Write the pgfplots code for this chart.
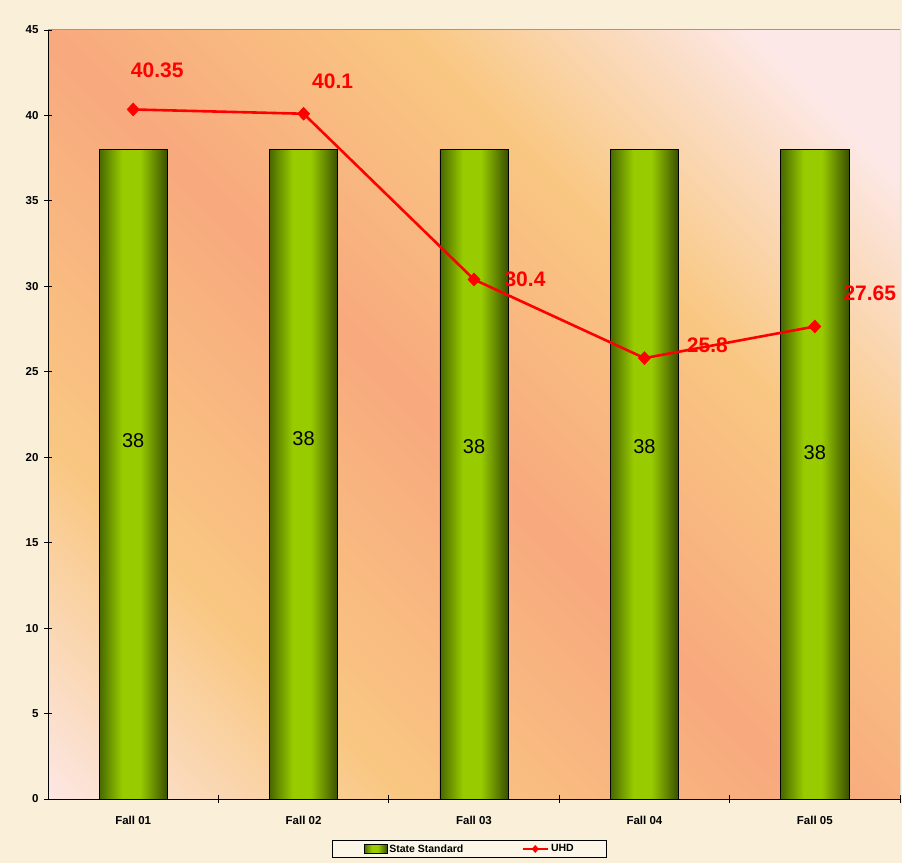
\documentclass[border=0pt]{standalone}
\usepackage{pgfplots}
\pgfplotsset{compat=1.18}
\usepackage{fontspec}
\setmainfont{Liberation Sans}

\definecolor{paper}{HTML}{FAF0DA}
\definecolor{bgpink}{HTML}{FCE8E6}
\definecolor{bgorange}{HTML}{F9C782}
\definecolor{bgsalmon}{HTML}{F8A97E}
\definecolor{bardarkL}{HTML}{476800}
\definecolor{bardarkR}{HTML}{3A5000}
\definecolor{barlight}{HTML}{99CC00}
\definecolor{uhdred}{HTML}{FF0000}

\pgfdeclarehorizontalshading{plotbg}{100bp}{%
  color(0bp)=(bgpink); color(14bp)=(bgpink); color(30bp)=(bgorange);
  color(48bp)=(bgsalmon); color(64bp)=(bgorange); color(79bp)=(bgpink);
  color(100bp)=(bgpink)}
\pgfdeclarehorizontalshading{barsh}{100bp}{%
  color(0bp)=(bardarkL); color(25bp)=(bardarkL); color(42bp)=(barlight);
  color(55bp)=(barlight); color(75bp)=(bardarkR); color(100bp)=(bardarkR)}

\pgfplotsset{
  barlegend/.style={legend image code/.code={%
    \draw[##1] (0pt,-4.5pt) rectangle (23pt,4.5pt);}},
  linelegend/.style={legend image code/.code={%
    \draw[##1, mark=none] (0pt,0pt) -- (25pt,0pt);
    \draw[##1, mark size=3.5pt] plot coordinates {(12.5pt,0pt)};}},
  stdbar/.style={ybar, bar width=0.4, draw=black, line width=0.6pt,
    shading=barsh},
}

\begin{document}
\begin{tikzpicture}[x=1pt,y=1pt]
\fill[paper] (0,0) rectangle (902,863);
\useasboundingbox (0,0) rectangle (902,863);
\begin{axis}[
    at={(48pt,64pt)}, anchor=south west,
    scale only axis, width=852pt, height=769pt,
    xmin=-0.5, xmax=4.5, ymin=0, ymax=45,
    axis background/.style={shading=plotbg, shading angle=45},
    axis lines=left, axis line style={-, black, line width=0.8pt},
    ytick={0,5,...,45},
    xtick={0.5,1.5,2.5,3.5,4.5}, xticklabels={},
    extra x ticks={0,1,2,3,4},
    extra x tick labels={Fall 01,Fall 02,Fall 03,Fall 04,Fall 05},
    extra x tick style={major tick length=0pt,
        xticklabel style={yshift=-14pt}},
    tick align=center, major tick length=8pt,
    tick style={black, line width=0.8pt},
    /pgf/number format/assume math mode=true,
    tick label style={font=\bfseries\fontsize{11.5}{13}\selectfont},
    yticklabel style={xshift=-2pt},
    legend columns=2,
    legend style={at={(0.495,-0.065)}, anchor=center,
        draw=black, fill=paper!60!white, line width=0.6pt,
        font=\bfseries\fontsize{10.5}{12}\selectfont,
        inner xsep=31pt, inner ysep=2pt,
        /tikz/every even column/.append style={column sep=56pt}},
]
% State Standard, one bar per plot so that each bar gets its own shading
\addplot[stdbar, barlegend] coordinates {(0,38)};
\addlegendentry{State Standard}
\addplot[stdbar, forget plot] coordinates {(1,38)};
\addplot[stdbar, forget plot] coordinates {(2,38)};
\addplot[stdbar, forget plot] coordinates {(3,38)};
\addplot[stdbar, forget plot] coordinates {(4,38)};

\addplot[uhdred, line width=2.6pt, mark=diamond*, mark size=6.5pt,
    mark options={xscale=1.25, line width=0.5pt}, linelegend]
    coordinates {(0,40.35) (1,40.1) (2,30.4) (3,25.8) (4,27.65)};
\addlegendentry{UHD}

% bar value labels
\addplot[draw=none, forget plot, point meta=explicit symbolic,
    nodes near coords,
    every node near coord/.style={anchor=center, black,
        font=\fontsize{20}{22}\selectfont}]
    coordinates {(0,20.95)[38] (1,21.07)[38] (2,20.6)[38] (3,20.6)[38] (4,20.25)[38]};

% line value labels
\begin{scope}[every node/.style={text=uhdred, font=\bfseries\fontsize{21}{23}\selectfont}]
\node[xshift=24pt, yshift=39pt] at (axis cs:0,40.35) {40.35};
\node[xshift=29pt, yshift=32pt] at (axis cs:1,40.1) {40.1};
\node[xshift=51pt, yshift=0pt] at (axis cs:2,30.4) {30.4};
\node[xshift=63pt, yshift=13pt] at (axis cs:3,25.8) {25.8};
\node[xshift=55pt, yshift=33pt] at (axis cs:4,27.65) {27.65};
\end{scope}

\draw[gray!80, line width=1pt] (rel axis cs:0,1) -- (rel axis cs:1,1) -- (rel axis cs:1,0);
\end{axis}
\end{tikzpicture}
\end{document}
